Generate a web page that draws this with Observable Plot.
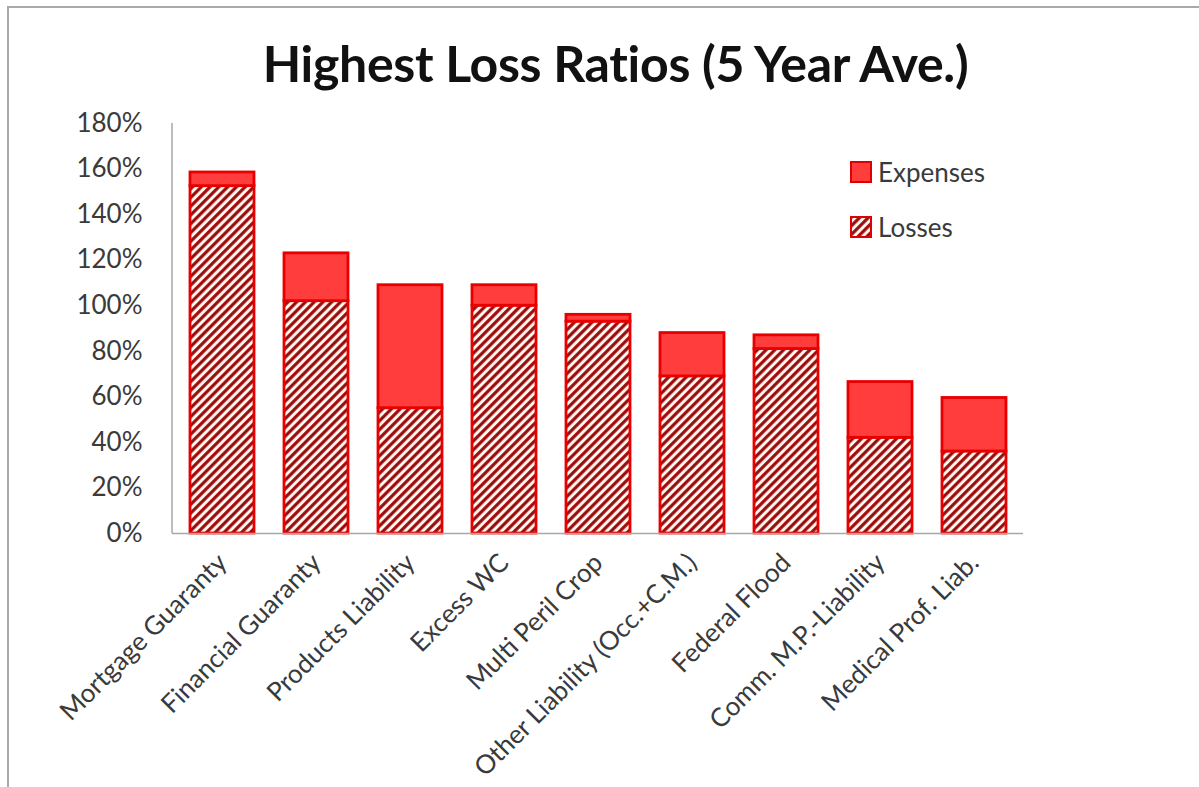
<!DOCTYPE html>
<html>
<head>
<meta charset="utf-8">
<script src="https://cdn.jsdelivr.net/npm/d3@7"></script>
<script src="https://cdn.jsdelivr.net/npm/@observablehq/plot@0.6"></script>
<style>
  body { margin: 0; background: #fff; }
  #wrap { position: relative; width: 1199px; height: 787px; overflow: hidden; background: #fff; font-family: Lato, "Open Sans", sans-serif; }
  #frame { position: absolute; left: 7px; top: 6px; width: 1400px; height: 1000px; border-left: 2px solid #a9a9a9; border-top: 2px solid #a9a9a9; }
  #title { position: absolute; left: 16px; width: 1199px; top: 33px; text-align: center; font-family: Lato, sans-serif; font-weight: 700; font-size: 50px; color: #111; letter-spacing: -0.3px; line-height: 1.2; }
  #chart { position: absolute; left: 0; top: 0; }
  .leg { position: absolute; left: 850px; display: flex; align-items: center; font-size: 26px; color: #3a3a3a; font-family: Lato, sans-serif; }
  .leg svg { margin-right: 6px; }
</style>
</head>
<body>
<svg width="0" height="0" style="position:absolute">
  <defs>
    <pattern id="hatch" patternUnits="userSpaceOnUse" width="6.2" height="6.2" patternTransform="rotate(45)">
      <rect width="6.2" height="6.2" fill="#fffaf4"></rect>
      <rect x="0" width="3.4" height="6.2" fill="#e02020"></rect>
      <rect x="0.7" width="2" height="6.2" fill="#7e1414"></rect>
    </pattern>
  </defs>
</svg>
<div id="wrap">
  <div id="frame"></div>
  <div id="chart"></div>
  <div id="title">Highest Loss Ratios (5 Year Ave.)</div>
  <div class="leg" style="top:156px"><svg width="22" height="22"><rect x="1" y="1" width="20" height="20" fill="#ff3d3d" stroke="#e00000" stroke-width="2"></rect></svg>Expenses</div>
  <div class="leg" style="top:211px"><svg width="22" height="22"><rect x="1" y="1" width="20" height="20" fill="url(#hatch)" stroke="#e00000" stroke-width="2"></rect></svg>Losses</div>
</div>
<script>
const categories = [
  "Mortgage Guaranty",
  "Financial Guaranty",
  "Products Liability",
  "Excess WC",
  "Multi Peril Crop",
  "Other Liability (Occ.+C.M.)",
  "Federal Flood",
  "Comm. M.P.-Liability",
  "Medical Prof. Liab."
];
const losses   = [152.5, 102, 55, 100, 93, 69, 81, 42, 36];
const expenses = [6, 21, 54, 9, 3, 19, 6, 24.5, 23.5];
const seriesNames = ["Losses", "Expenses"];
const yTicks = [0, 20, 40, 60, 80, 100, 120, 140, 160, 180];

const rows = categories.flatMap((c, i) => [
  {category: c, series: seriesNames[0], value: losses[i]},
  {category: c, series: seriesNames[1], value: expenses[i]}
]);

const yAxisLine = (index, scales, values, dims) => {
  const ns = "http://www.w3.org/2000/svg";
  const l = document.createElementNS(ns, "line");
  l.setAttribute("x1", dims.marginLeft);
  l.setAttribute("x2", dims.marginLeft);
  l.setAttribute("y1", dims.marginTop);
  l.setAttribute("y2", dims.height - dims.marginBottom);
  l.setAttribute("stroke", "#a6a6a6");
  l.setAttribute("stroke-width", "1.5");
  return l;
};

const chart = Plot.plot({
  width: 1199,
  height: 787,
  marginLeft: 172,
  marginRight: 176,
  marginTop: 123,
  marginBottom: 254,
  style: {fontFamily: "Lato, sans-serif", fontSize: "26px", color: "#3a3a3a", background: "transparent", overflow: "visible"},
  x: {domain: categories, paddingInner: 0.32, paddingOuter: 0.16, label: null},
  y: {domain: [0, 180], label: null},
  color: {domain: seriesNames, range: ["url(#hatch)", "#ff3d3d"]},
  marks: [
    Plot.axisY({ticks: yTicks, tickSize: 0, tickPadding: 30, tickFormat: d => d + "%", label: null, fill: "#3a3a3a"}),
    Plot.axisX({tickSize: 0, tickRotate: -45, tickPadding: 25, label: null, fill: "#3a3a3a"}),
    Plot.barY(rows, Plot.stackY({x: "category", y: "value", fill: "series", stroke: "#e80000", strokeWidth: 2.8})),
    Plot.ruleY([0], {stroke: "#a6a6a6", strokeWidth: 1.5}),
    yAxisLine
  ]
});
document.getElementById("chart").appendChild(chart);
</script>
</body>
</html>
